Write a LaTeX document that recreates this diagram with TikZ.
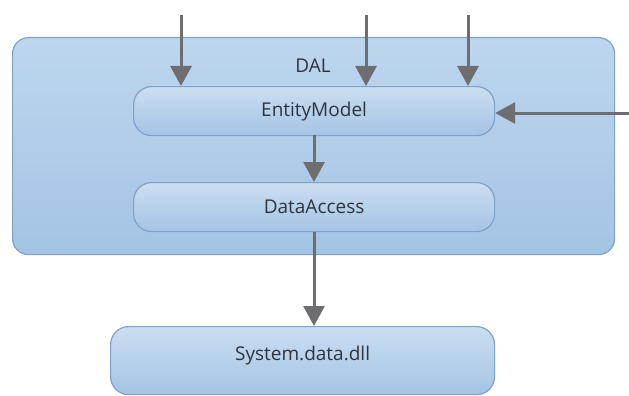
\documentclass[tikz,border=0pt]{standalone}
\usepackage{fontspec}
\setmainfont{Open Sans}
\usetikzlibrary{arrows.meta}
\definecolor{bordc}{HTML}{7FA2C8}
\definecolor{topc}{HTML}{BDD6EE}
\definecolor{botc}{HTML}{A4C4E4}
\definecolor{arrc}{HTML}{6E6E70}
\definecolor{txtc}{HTML}{2E3440}
\tikzset{
  container/.style={draw=bordc, line width=1.2pt, rounded corners=16pt, top color=topc, bottom color=botc},
  comp/.style={draw=bordc, line width=1.2pt, rounded corners=18pt, top color=topc!80!white, bottom color=botc, text=txtc, font=\fontsize{19}{22}\selectfont},
  dep/.style={draw=arrc, line width=3pt, -{Triangle[width=21pt,length=20pt]}},
  lbl/.style={text=txtc, font=\fontsize{19}{22}\selectfont}
}
\begin{document}
\begin{tikzpicture}[x=1pt,y=-1pt]
\useasboundingbox (0,0) rectangle (629,396);
\fill[white] (0,0) rectangle (629,396);
\node[container, minimum width=602pt, minimum height=217pt, anchor=north west] (dal) at (12,37) {};
\node[lbl] (dallabel) at (313,66) {DAL};
\node[comp, minimum width=361pt, minimum height=49pt, anchor=north west] (em) at (133,86) {EntityModel};
\node[comp, minimum width=361pt, minimum height=49pt, anchor=north west] (da) at (133,182) {DataAccess};
\node[comp, minimum width=384pt, minimum height=68pt, anchor=north west, text depth=0pt] (sys) at (110,326) {\raisebox{14pt}{System.data.dll}};
\coordinate (t1) at (181,15);
\coordinate (t2) at (366,15);
\coordinate (t3) at (468,15);
\coordinate (r1) at (629,113);
\draw[dep] (t1) -- (t1 |- em.north);
\draw[dep] (t2) -- (t2 |- em.north);
\draw[dep] (t3) -- (t3 |- em.north);
\draw[dep] (r1) -- (em.east |- r1);
\draw[dep] (314,135) -- (314,182);
\draw[dep] (da.south -| 314,0) -- (sys.north -| 314,0);
\end{tikzpicture}
\end{document}
